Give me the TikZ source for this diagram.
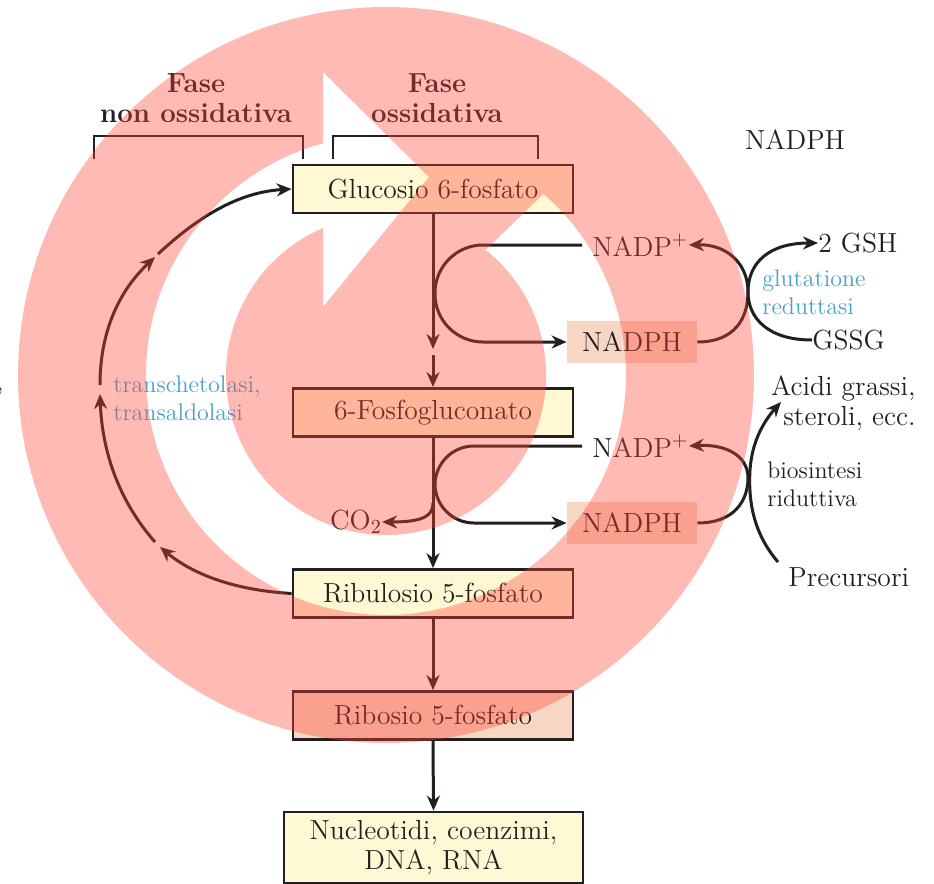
\documentclass[tikz,border=0pt]{standalone}
\usetikzlibrary{arrows.meta,calc}
\definecolor{ink}{RGB}{35,31,32}
\definecolor{boxy}{RGB}{255,248,212}
\definecolor{peach}{RGB}{248,214,196}
\definecolor{enz}{RGB}{74,160,200}
\definecolor{ov}{RGB}{255,68,54}
\newcommand\mainsize{\fontsize{13.8}{15}\selectfont}
\newcommand\enzsize{\fontsize{12}{14}\selectfont}
\begin{document}
\begin{tikzpicture}[x=0.5pt,y=-0.5pt,
  >={Stealth[length=7.5pt,width=6.5pt]},
  conn/.style={draw=ink,line width=1.5pt},
  box/.style={draw=ink,line width=1.4pt,fill=boxy,minimum width=140pt,minimum height=24pt,inner sep=0pt,font=\mainsize,text=ink},
  nbox/.style={fill=peach,minimum width=65pt,minimum height=21pt,inner sep=0pt,font=\mainsize,text=ink},
  lbl/.style={font=\mainsize,text=ink,inner sep=0pt},
  enzl/.style={font=\enzsize,text=enz,inner sep=0pt,align=left},
  bracket/.style={draw=ink,line width=1pt},
  ovl/.style={fill=ov,fill opacity=0.37,even odd rule}
]
\useasboundingbox (0,0) rectangle (934,884);
\fill[white] (0,0) rectangle (934,884);

% boxes
\node[box] (g6p) at (433,189) {Glucosio 6-fosfato};
\node[box] (pg) at (433,412.5) {6-Fosfogluconato};
\node[box] (ru5p) at (433,593.5) {Ribulosio 5-fosfato};
\node[box,fill=peach] (r5p) at (433,715.5) {Ribosio 5-fosfato};
\node[box,minimum width=149.5pt,minimum height=35.5pt,align=center,font=\fontsize{13.8}{15}\selectfont] (nuc) at (433.5,847.5) {Nucleotidi, coenzimi,\\DNA, RNA};

% NADPH boxes and labels
\node[nbox] (nadph1) at (632,342) {NADPH};
\node[nbox] (nadph2) at (632,523) {NADPH};
\node[lbl,anchor=west] (nadp1) at (592,245) {NADP$^+$};
\node[lbl,anchor=west] (nadp2) at (592,446) {NADP$^+$};
\node[lbl] (nadphtop) at (795,140) {NADPH};
\node[lbl,anchor=west] (gsh) at (818,243) {2 GSH};
\node[lbl,anchor=west] (gssg) at (812,340) {GSSG};
\node[enzl,anchor=west] (gr) at (762,292) {glutatione\\reduttasi};
\node[lbl,anchor=east,align=right] (acidi) at (916,403) {Acidi grassi,\\steroli, ecc.};
\node[lbl,anchor=west,align=left,font=\enzsize] (bios) at (767,484) {biosintesi\\riduttiva};
\node[lbl,anchor=west] (prec) at (788,577) {Precursori};
\node[lbl] (co2) at (356,522) {CO$_2$};
\node[enzl,anchor=west] (tk) at (113,398) {transchetolasi,\\transaldolasi};

% phase labels and brackets
\node[lbl,align=center,font=\bfseries\mainsize] (fnon) at (196,98) {Fase\\non ossidativa};
\node[lbl,align=center,font=\bfseries\mainsize] (fox) at (437,98) {Fase\\ossidativa};
\draw[bracket] (94,159) -- (94,136) -- (303,136) -- (303,159);
\draw[bracket] (333,159) -- (333,136) -- (538,136) -- (538,159);

% partial characters at left border
\node[lbl,anchor=east] (lc1) at (4,392) {,};
\node[lbl,anchor=east] (lc2) at (3,426) {.};

% main vertical arrows
\coordinate (v1) at (433,349);
\coordinate (v2) at (433,355);
\draw[conn,->] (g6p.south) -- (v1);
\draw[conn,->] (v2) -- (pg.north);
\draw[conn,->] (pg.south) -- (ru5p.north);
\draw[conn,->] (ru5p.south) -- (r5p.north);
\draw[conn,->] (r5p.south) -- (nuc.north);

% CO2 branch
\coordinate (c0) at (433,503);
\draw[conn,->] (c0) .. controls (433,515) and (425,522) .. (co2.east);

% loops
\coordinate (l1s) at (582,245);
\coordinate (l2s) at (582,446);
\draw[conn,->,rounded corners=24pt] (l1s) -- (435,245) -- (435,342) -- (nadph1.west);
\draw[conn,->,rounded corners=19.5pt] (l2s) -- (435,446) -- (435,523) -- (nadph2.west);

% glutathione
\draw[conn,->] (nadph1.east) .. controls (735,342) and (748,318) .. (748,292) .. controls (748,262) and (725,244) .. (nadp1.east);
\draw[conn,->] (gssg.west) .. controls (768,340) and (748,318) .. (748,292) .. controls (748,262) and (770,243) .. (gsh.west);

% reductive biosynthesis
\draw[conn,->] (nadph2.east) .. controls (735,523) and (748,500) .. (748,478) .. controls (748,455) and (725,444) .. (nadp2.east);
\coordinate (pr0) at (778,562);
\coordinate (ac0) at (781,402);
\draw[conn,->] (pr0) .. controls (755,535) and (748,505) .. (750,470) .. controls (752,440) and (765,420) .. (ac0);

% non-oxidative return
\coordinate (p1) at (160,547);
\coordinate (p2) at (155,542);
\coordinate (p3) at (100,394);
\coordinate (p4) at (100,385);
\coordinate (p5) at (155,257);
\coordinate (p6) at (158,254);
\draw[conn,->] (ru5p.west) .. controls (230,590) and (190,572) .. (p1);
\draw[conn,->] (p2) .. controls (118,500) and (102,450) .. (p3);
\draw[conn,->] (p4) .. controls (100,330) and (120,290) .. (p5);
\draw[conn,->] (p6) .. controls (200,215) and (240,192) .. (g6p.west);

% translucent overlay (circular arrow)
\fill[ovl] (386,375) circle[radius=368]
  (386,375) ++(-49:240) arc[start angle=-49,end angle=254.8,radius=240]
  -- (323,72) -- (429,177) -- (323,307) -- (323,228)
  arc[start angle=246.8,end angle=-51.5,radius=160] -- cycle;
\end{tikzpicture}
\end{document}
